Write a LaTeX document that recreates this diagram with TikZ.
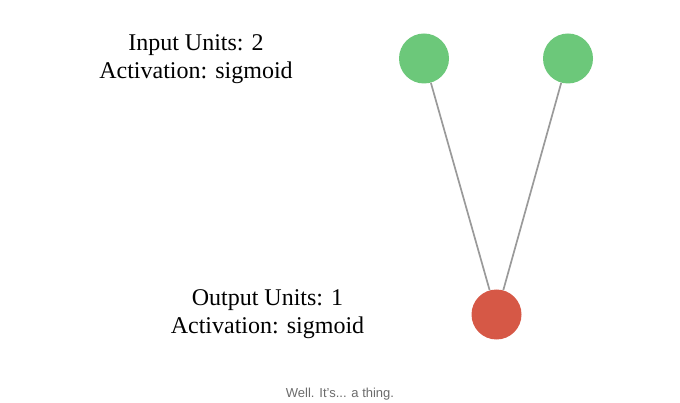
\documentclass[tikz,border=0pt]{standalone}
\usepackage{fontspec}
\setmainfont{Liberation Serif}
\newfontfamily\capfont{Liberation Sans}
\definecolor{ingreen}{HTML}{6CC87A}
\definecolor{outred}{HTML}{D65846}
\definecolor{edgegray}{HTML}{9A9A9A}
\definecolor{capgray}{HTML}{6B6B6B}
\begin{document}
\begin{tikzpicture}[x=1pt,y=-1pt,
  neuron/.style={circle,minimum size=50pt,inner sep=0pt},
  inneuron/.style={neuron,fill=ingreen},
  outneuron/.style={neuron,fill=outred},
  edge/.style={draw=edgegray,line width=1.7pt},
  label/.style={align=center,font=\fontsize{24}{28}\selectfont,inner sep=0pt},
  caption/.style={font=\capfont\fontsize{13}{15}\selectfont,text=capgray,inner sep=0pt}]
\useasboundingbox (0,0) rectangle (680,403);
\node[inneuron] (i1) at (424,58.5) {};
\node[inneuron] (i2) at (568,58.5) {};
\node[outneuron] (o1) at (496.5,314.5) {};
\draw[edge] (i1) -- (o1);
\draw[edge] (i2) -- (o1);
\node[label] (inlabel) at (196,59.5) {Input Units: 2\\Activation: sigmoid};
\node[label] (outlabel) at (267.5,314.5) {Output Units: 1\\Activation: sigmoid};
\node[caption] (cap) at (340,394) {Well. It’s... a thing.};
\end{tikzpicture}
\end{document}
